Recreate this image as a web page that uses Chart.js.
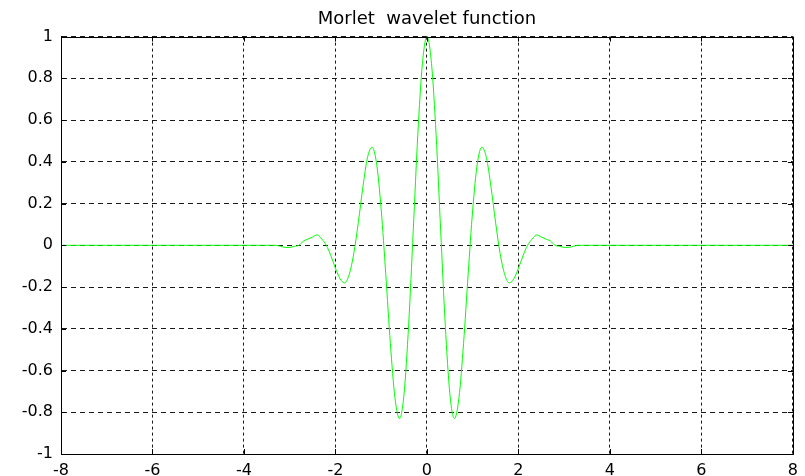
<!DOCTYPE html>
<html>
<head>
<meta charset="utf-8">
<title>Morlet wavelet function</title>
<script src="https://cdn.jsdelivr.net/npm/chart.js@4/dist/chart.umd.min.js"></script>
<style>
    html, body { margin: 0; padding: 0; background: #ffffff; }
    #wrap { width: 805px; height: 476px; position: relative; }
</style>
</head>
<body>
<div id="wrap"><canvas id="wavelet"></canvas></div>
<script>
// Morlet wavelet samples
const xValues = [
    -8, -7.5, -7, -6.5, -6, -5.5, -5, -4.5, -4, -3.6,
    -3.5, -3.4, -3.3, -3.2, -3.1, -3.0, -2.9, -2.8, -2.7, -2.6,
    -2.5, -2.4, -2.3, -2.2, -2.1, -2.0, -1.9, -1.8, -1.7, -1.6,
    -1.5, -1.4, -1.3, -1.2, -1.1, -1.0, -0.9, -0.8, -0.7, -0.6,
    -0.5, -0.4, -0.3, -0.2, -0.1, 0,
    0.1, 0.2, 0.3, 0.4, 0.5, 0.6, 0.7, 0.8, 0.9, 1.0,
    1.1, 1.2, 1.3, 1.4, 1.5, 1.6, 1.7, 1.8, 1.9, 2.0,
    2.1, 2.2, 2.3, 2.4, 2.5, 2.6, 2.7, 2.8, 2.9, 3.0,
    3.1, 3.2, 3.3, 3.4, 3.5,
    3.6, 4, 4.5, 5, 5.5, 6, 6.5, 7, 7.5, 8
];
const yValues = [
    0, 0, 0, 0, 0, 0, 0, 0, 0, 0,
    0, 0, 0, -0.005, -0.01, -0.01, -0.005, 0, 0.02, 0.03,
    0.04, 0.05, 0.03, 0, -0.05, -0.11, -0.16, -0.18, -0.14, -0.04,
    0.11, 0.28, 0.42, 0.47, 0.39, 0.17, -0.14, -0.47, -0.73, -0.83,
    -0.71, -0.38, 0.07, 0.53, 0.87, 1.00,
    0.87, 0.53, 0.07, -0.38, -0.71, -0.83, -0.73, -0.47, -0.14, 0.17,
    0.39, 0.47, 0.42, 0.28, 0.11, -0.04, -0.14, -0.18, -0.16, -0.11,
    -0.05, 0, 0.03, 0.05, 0.04, 0.03, 0.02, 0, -0.005, -0.01,
    -0.01, -0.005, 0, 0, 0,
    0, 0, 0, 0, 0, 0, 0, 0, 0, 0
];

// Axis ticks
const xTicks = [-8, -6, -4, -2, 0, 2, 4, 6, 8];
const yTicks = [-1, -0.8, -0.6, -0.4, -0.2, 0, 0.2, 0.4, 0.6, 0.8, 1];

const fontFamily = "'DejaVu Sans', Verdana, sans-serif";
const labelFont = { family: fontFamily, size: 16 };

// Closed axes box with small inward tick marks on every side
const boxTicks = {
    id: 'boxTicks',
    afterDraw(chart) {
        const { ctx, chartArea: a, scales } = chart;
        const len = 5;
        ctx.save();
        ctx.strokeStyle = '#000000';
        ctx.lineWidth = 1;
        ctx.setLineDash([]);
        ctx.beginPath();
        scales.x.ticks.forEach(t => {
            const px = Math.round(scales.x.getPixelForValue(t.value)) + 0.5;
            ctx.moveTo(px, a.top);
            ctx.lineTo(px, a.top + len);
            ctx.moveTo(px, a.bottom);
            ctx.lineTo(px, a.bottom - len);
        });
        scales.y.ticks.forEach(t => {
            const py = Math.round(scales.y.getPixelForValue(t.value)) + 0.5;
            ctx.moveTo(a.left, py);
            ctx.lineTo(a.left + len, py);
            ctx.moveTo(a.right, py);
            ctx.lineTo(a.right - len, py);
        });
        ctx.stroke();
        ctx.strokeRect(Math.round(a.left) + 0.5, Math.round(a.top) + 0.5,
            Math.round(a.right - a.left), Math.round(a.bottom - a.top));
        ctx.restore();
    }
};

new Chart(document.getElementById('wavelet'), {
    type: 'line',
    data: {
        datasets: [{
            data: xValues.map((x, i) => ({ x: x, y: yValues[i] })),
            borderColor: '#00ff00',
            borderWidth: 1,
            pointRadius: 0,
            cubicInterpolationMode: 'monotone',
            fill: false
        }]
    },
    options: {
        responsive: true,
        maintainAspectRatio: false,
        animation: false,
        events: [],
        layout: { padding: { left: 0, right: 8, top: 0, bottom: 0 } },
        plugins: {
            legend: { display: false },
            tooltip: { enabled: false },
            title: {
                display: true,
                fullSize: false,
                text: 'Morlet  wavelet function',
                color: '#000000',
                font: { family: fontFamily, size: 18, weight: 'normal', lineHeight: 1.2 },
                padding: { top: 9, bottom: 6 }
            }
        },
        scales: {
            x: {
                type: 'linear',
                min: -8,
                max: 8,
                afterBuildTicks: scale => { scale.ticks = xTicks.map(v => ({ value: v })); },
                afterFit: scale => { scale.height = 22; },
                grid: { color: '#1a1a1a', lineWidth: 1, drawTicks: false },
                border: { display: true, color: '#000000', dash: [3, 3] },
                ticks: {
                    color: '#000000',
                    font: labelFont,
                    padding: 7,
                    maxRotation: 0,
                    callback: v => String(v)
                }
            },
            y: {
                type: 'linear',
                min: -1,
                max: 1,
                afterBuildTicks: scale => { scale.ticks = yTicks.map(v => ({ value: v })); },
                afterFit: scale => { scale.width = 61; },
                grid: { color: '#1a1a1a', lineWidth: 1, drawTicks: false },
                border: { display: true, color: '#000000', dash: [5, 4] },
                ticks: {
                    color: '#000000',
                    font: labelFont,
                    padding: 8,
                    callback: v => String(Math.round(v * 10) / 10)
                }
            }
        }
    },
    plugins: [boxTicks]
});
</script>
</body>
</html>
